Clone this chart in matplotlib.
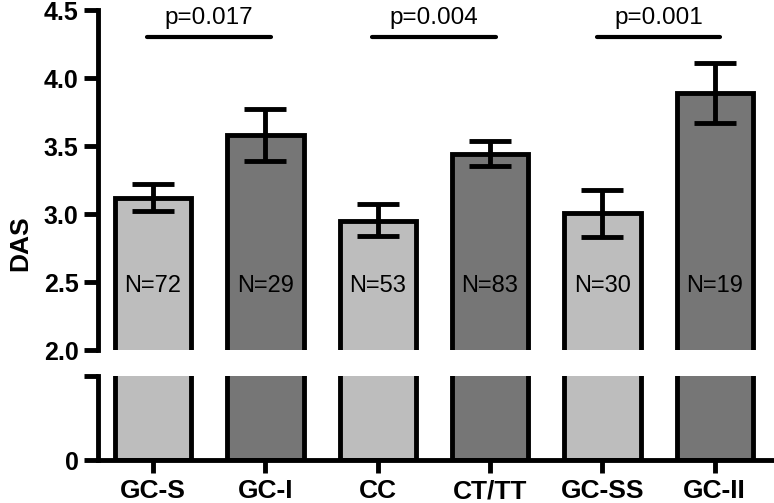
import numpy as np
import matplotlib.pyplot as plt

plt.rcParams['font.family'] = ['Liberation Sans', 'DejaVu Sans']

groups = ["GC-S", "GC-I", "CC", "CT/TT", "GC-SS", "GC-II"]
means = [3.12, 3.58, 2.95, 3.44, 3.01, 3.89]
err_lo = [0.10, 0.19, 0.11, 0.09, 0.18, 0.22]
err_hi = [0.10, 0.19, 0.12, 0.10, 0.17, 0.22]
counts = [72, 29, 53, 83, 30, 19]
colors = ["#bdbdbd", "#767676"] * 3
pairs = [(0, 1), (2, 3), (4, 5)]
pvals = ["p=0.017", "p=0.004", "p=0.001"]

fig = plt.figure(figsize=(7.74, 5.03), dpi=100)
left, width = 98 / 774, 674 / 774
ax_top = fig.add_axes([left, 1 - 350 / 503, width, 340 / 503])
ax_bot = fig.add_axes([left, 1 - 460 / 503, width, 84 / 503])

x = np.arange(len(groups))
lw = 3.5
for ax in (ax_top, ax_bot):
    ax.bar(x, means, width=0.68, color=colors, edgecolor="black", linewidth=lw, zorder=2)
    ax.set_xlim(-0.49, 5.51)
    for s in ("top", "right"):
        ax.spines[s].set_visible(False)
    ax.spines["left"].set_linewidth(lw)
    ax.tick_params(axis="y", width=lw, length=10, labelsize=18, pad=4)

ax_top.errorbar(x, means, yerr=[err_lo, err_hi], fmt="none", ecolor="black",
                elinewidth=lw, capsize=15, capthick=lw, zorder=3)
ax_top.set_ylim(2.0, 4.5)
ax_top.set_yticks([2.0, 2.5, 3.0, 3.5, 4.0, 4.5])
ax_top.set_yticklabels(["2.0", "2.5", "3.0", "3.5", "4.0", "4.5"], fontweight="bold")
ax_top.spines["bottom"].set_visible(False)
ax_top.tick_params(axis="x", bottom=False, labelbottom=False)
ax_top.set_ylabel("DAS", fontsize=19, fontweight="bold")
ax_top.yaxis.set_label_coords(-0.098, 0.315)

for i, n in enumerate(counts):
    ax_top.text(x[i], 2.47, f"N={n}", ha="center", va="center", fontsize=17)

for (a, b), p in zip(pairs, pvals):
    ax_top.plot([x[a] - 0.05, x[b] + 0.05], [4.30, 4.30], color="black", lw=3,
                solid_capstyle="round", clip_on=False)
    ax_top.text((x[a] + x[b]) / 2, 4.36, p, ha="center", va="bottom", fontsize=17.5)

top_val = 84 / 136
ax_bot.set_ylim(0, top_val)
ax_bot.set_yticks([0, top_val])
ax_bot.set_yticklabels(["0", ""], fontweight="bold")
ax_bot.spines["bottom"].set_linewidth(lw)
ax_bot.set_xticks(x)
ax_bot.set_xticklabels(groups, fontsize=19, fontweight="bold")
ax_bot.tick_params(axis="x", width=lw, length=9, pad=5)

fig.savefig("out.png", dpi=100)
